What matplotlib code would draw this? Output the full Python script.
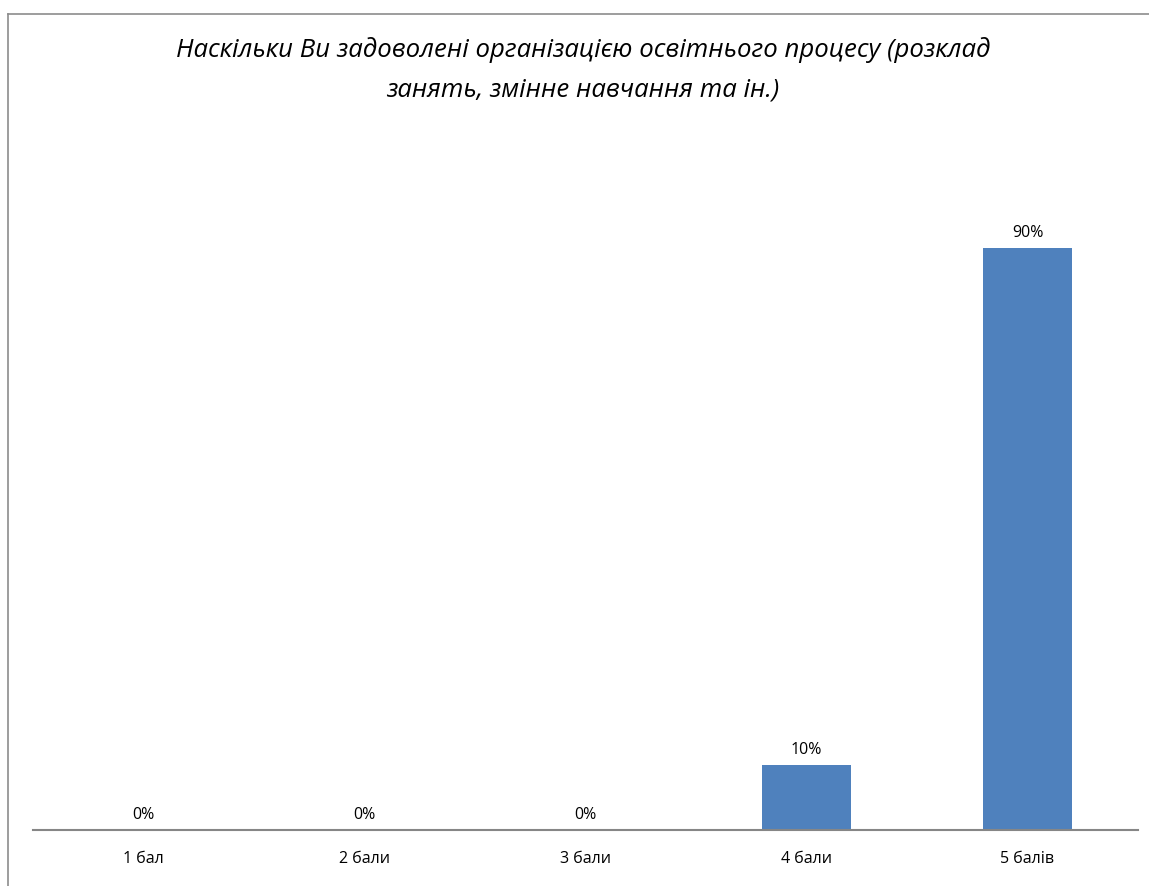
import matplotlib.pyplot as plt
from matplotlib.lines import Line2D

categories = ["1 бал", "2 бали", "3 бали", "4 бали", "5 балів"]
values = [0, 0, 0, 10, 90]
labels = ["0%", "0%", "0%", "10%", "90%"]
title = "Наскільки Ви задоволені організацією освітнього процесу (розклад\nзанять, змінне навчання та ін.)"

plt.rcParams['font.family'] = ['Open Sans', 'DejaVu Sans']

W, H = 1149, 886
fig = plt.figure(figsize=(W / 100, H / 100), dpi=100)

# outer chart frame (only top and left visible in the crop)
fig.add_artist(Line2D([8 / W, 1.0], [1 - 14 / H, 1 - 14 / H], color="#8c8c8c", lw=1.2))
fig.add_artist(Line2D([8 / W, 8 / W], [0.0, 1 - 14 / H], color="#8c8c8c", lw=1.2))

ax = fig.add_axes([33 / W, 1 - 830 / H, 1105 / W, 647 / H])
x = list(range(len(categories)))
bars = ax.bar(x, values, width=0.4, color="#4F81BD")
ax.set_xlim(-0.5, len(categories) - 0.5)
ax.set_ylim(0, 100)

for xi, v, lab in zip(x, values, labels):
    ax.text(xi, v + 1.1, lab, ha="center", va="bottom", fontsize=11.5)

ax.set_xticks(x)
ax.set_xticklabels(categories, fontsize=11.5)
ax.tick_params(axis="x", length=0, pad=15)
ax.set_yticks([])
for s in ["top", "right", "left"]:
    ax.spines[s].set_visible(False)
ax.spines["bottom"].set_color("#868686")
ax.spines["bottom"].set_linewidth(1.5)

fig.text(583 / W, 1 - 70 / H, title, ha="center", va="center", fontsize=18.5,
         style="italic", linespacing=1.75)

fig.savefig("out.png", dpi=100)
